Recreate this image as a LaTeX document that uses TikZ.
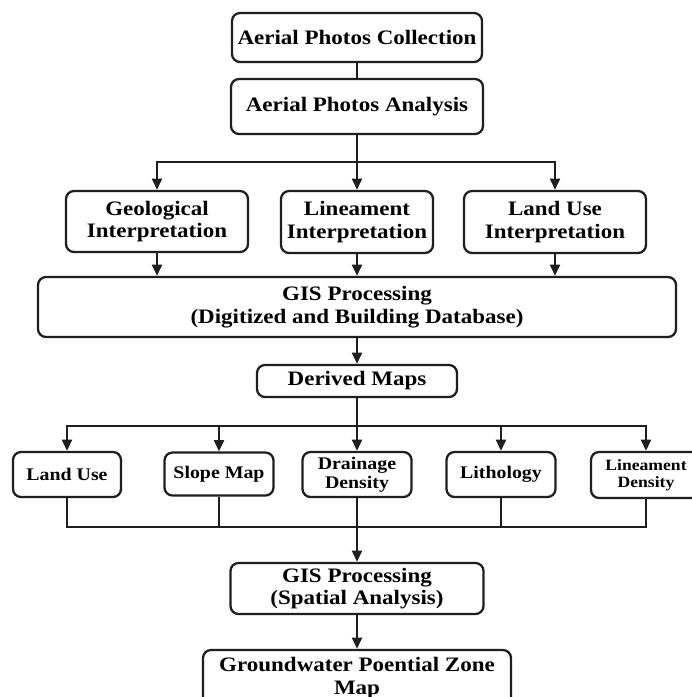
\documentclass[tikz,border=0pt]{standalone}
\usepackage{fontspec}
\setmainfont{Liberation Serif}[FakeStretch=1.12]
\usetikzlibrary{arrows.meta}
\begin{document}
\begin{tikzpicture}[x=0.75pt,y=-0.75pt,
  box/.style={draw=black!88, line width=1.7pt, rounded corners=6pt, align=center,
    inner sep=0pt, text=black, font=\bfseries\fontsize{15.4}{17}\selectfont},
  sbox/.style={box, font=\bfseries\fontsize{13.3}{14}\selectfont},
  tbox/.style={box, font=\bfseries\fontsize{11.8}{12.9}\selectfont},
  wh/.style 2 args={minimum width=#1*0.75pt, minimum height=#2*0.75pt},
  link/.style={draw=black!88, line width=1.7pt},
  arr/.style={link, -{Triangle[length=8.5pt,width=7.5pt]}},
]
\useasboundingbox (0,0) rectangle (692,697);
\fill[white] (0,0) rectangle (692,697);

% top
\node[box, wh={250}{49}] (c1) at (357,37.5) {Aerial Photos Collection};
\node[box, wh={252}{55}] (a2) at (357,106.5) {Aerial Photos Analysis};

% middle row
\node[box, wh={182}{61}] (geo) at (157,221.5) {Geological\\Interpretation};
\node[box, wh={152}{62}] (lin) at (357,222) {Lineament\\Interpretation};
\node[box, wh={182}{62}] (lui) at (555,222) {Land Use\\Interpretation};

\node[box, wh={638}{60}] (gis1) at (357,307) {GIS Processing\\(Digitized and Building Database)};
\node[box, wh={200}{32}] (der) at (357,381) {Derived Maps};

% bottom row
\node[sbox, wh={108}{45}] (lu) at (67,474.5) {Land Use};
\node[sbox, wh={109}{43}] (sm) at (219,474) {Slope Map};
\node[sbox, wh={109}{45}] (dd) at (357,474.5) {Drainage\\Density};
\node[sbox, wh={109}{45}] (lith) at (501,474.5) {Lithology};
\node[tbox, wh={110}{46}] (ld) at (646,475) {Lineament\\Density};

\node[box, wh={253}{51}] (sp) at (357,588.5) {GIS Processing\\(Spatial Analysis)};
\node[box, wh={308}{56}] (gw) at (357,678) {Groundwater Poential Zone\\Map};

% connectors
\draw[link] (c1) -- (a2);
\coordinate (j1) at (357,162);
\draw[link] (a2) -- (j1);
\draw[arr] (j1) -| (geo);
\draw[arr] (j1) -- (lin);
\draw[arr] (j1) -| (lui);
\draw[arr] (geo) -- (geo |- gis1.north);
\draw[arr] (lin) -- (lin |- gis1.north);
\draw[arr] (lui) -- (lui |- gis1.north);
\draw[arr] (gis1) -- (der);

\coordinate (j2) at (357,426);
\draw[link] (der) -- (j2);
\draw[arr] (j2) -| (lu);
\draw[arr] (j2) -| (sm);
\draw[arr] (j2) -- (dd);
\draw[arr] (j2) -| (lith);
\draw[arr] (j2) -| (ld);

\coordinate (j3) at (357,527);
\draw[link] (lu) |- (j3);
\draw[link] (sm) |- (j3);
\draw[link] (lith) |- (j3);
\draw[link] (ld) |- (j3);
\draw[arr] (dd) -- (sp);
\draw[arr] (sp) -- (gw);
\end{tikzpicture}
\end{document}
